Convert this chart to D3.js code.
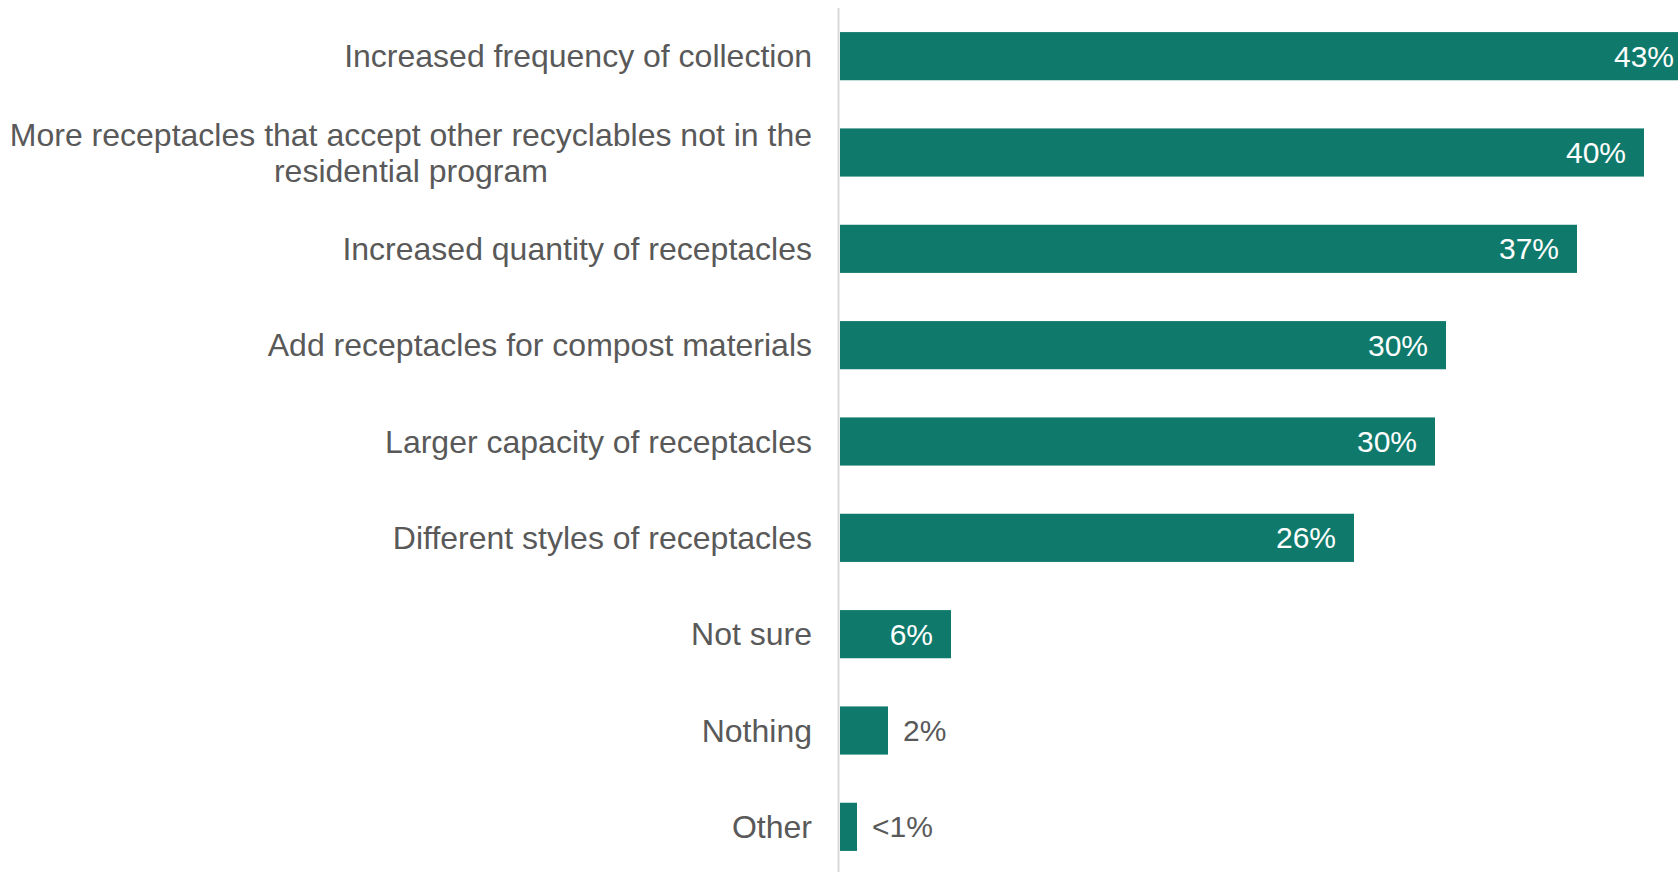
<!DOCTYPE html>
<html>
<head>
<meta charset="utf-8">
<script src="https://cdn.jsdelivr.net/npm/d3@7"></script>
<style>
  html, body { margin: 0; padding: 0; background: #fff; }
  svg { display: block; font-family: "Liberation Sans", Arial, sans-serif; }
</style>
</head>
<body>
<svg id="chart" width="1678" height="872"></svg>
<script>
// Survey responses: improvements that would increase use of public recycling receptacles
const categories = [
  ["Increased frequency of collection"],
  ["More receptacles that accept other recyclables not in the", "residential program"],
  ["Increased quantity of receptacles"],
  ["Add receptacles for compost materials"],
  ["Larger capacity of receptacles"],
  ["Different styles of receptacles"],
  ["Not sure"],
  ["Nothing"],
  ["Other"]
];
const values = [42.6, 40.2, 36.85, 30.3, 29.75, 25.7, 5.55, 2.4, 0.85];

const W = 1678, H = 872;
const axisX = 840;
const svg = d3.select("#chart");

const x = d3.scaleLinear().domain([0, 41.9]).range([axisX, W]);
const y = d3.scaleBand()
  .domain(d3.range(categories.length))
  .range([8, 875])
  .paddingInner(0.5)
  .paddingOuter(0.25);

const fmt = v => v < 1 ? "<1%" : Math.round(v) + "%";

// bars
svg.append("g").selectAll("rect")
  .data(values)
  .join("rect")
  .attr("x", x(0))
  .attr("y", (d, i) => y(i))
  .attr("width", d => x(d) - x(0))
  .attr("height", y.bandwidth())
  .attr("fill", "#0f7a6b");

// vertical axis line
svg.append("line")
  .attr("x1", axisX - 1.5).attr("x2", axisX - 1.5)
  .attr("y1", 8).attr("y2", H)
  .attr("stroke", "#d9d9d9").attr("stroke-width", 2);

// category labels (wrapped labels are centred within their block)
const labelRight = 812;
const lineH = 36;
const labels = svg.append("g")
  .attr("font-size", 32)
  .attr("fill", "#595959");

categories.forEach((lines, i) => {
  const cy = y(i) + y.bandwidth() / 2;
  const g = labels.append("g");
  const texts = lines.map((t, k) => g.append("text")
    .attr("y", cy + (k - (lines.length - 1) / 2) * lineH)
    .attr("dy", "0.35em")
    .text(t));
  if (lines.length === 1) {
    texts[0].attr("x", labelRight).attr("text-anchor", "end");
  } else {
    const maxW = d3.max(texts, t => t.node().getComputedTextLength());
    texts.forEach(t => t.attr("x", labelRight - maxW / 2).attr("text-anchor", "middle"));
  }
});

// value labels: inside the bar when it is wide enough, otherwise just outside
svg.append("g").attr("font-size", 30)
  .selectAll("text")
  .data(values)
  .join("text")
  .attr("y", (d, i) => y(i) + y.bandwidth() / 2)
  .attr("dy", "0.35em")
  .each(function (d) {
    const inside = x(d) - x(0) > 80;
    d3.select(this)
      .attr("x", inside ? x(d) - 18 : x(d) + 15)
      .attr("text-anchor", inside ? "end" : "start")
      .attr("fill", inside ? "#ffffff" : "#595959")
      .text(fmt(d));
  });
</script>
</body>
</html>
